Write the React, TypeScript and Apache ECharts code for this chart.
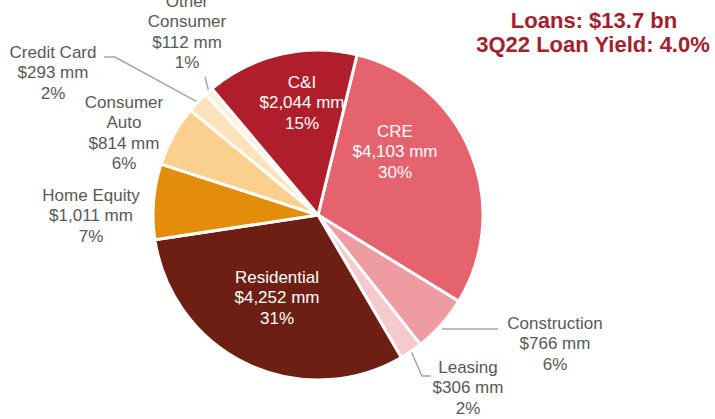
import React, { useEffect, useRef } from "react";
import * as echarts from "echarts";

// Data (clockwise from CRE)
const categories = [
  "CRE",
  "Construction",
  "Leasing",
  "Residential",
  "Home Equity",
  "Consumer Auto",
  "Credit Card",
  "Other Consumer",
  "C&I",
];
const labelNames = [
  "CRE",
  "Construction",
  "Leasing",
  "Residential",
  "Home Equity",
  "Consumer\nAuto",
  "Credit Card",
  "Other\nConsumer",
  "C&I",
];
const valuesMM = [4103, 766, 306, 4252, 1011, 814, 293, 112, 2044];
const titleLines = ["Loans: $13.7 bn", "3Q22 Loan Yield: 4.0%"];

const colors = [
  "#E4636E",
  "#EE9BA1",
  "#F5CACD",
  "#6E1F13",
  "#E38D0A",
  "#FBD08F",
  "#FCE3BC",
  "#FDF1DE",
  "#B11E2B",
];
const insideIdx = new Set([0, 3, 8]);
const noLineIdx = new Set([4, 5]);

type LabelPos = { x: number; y: number; line?: number[][]; fullLine?: boolean };
const labelPositions: LabelPos[] = [
  { x: 395, y: 121 },
  { x: 555, y: 313, line: [[442, 329], [498, 329]], fullLine: true },
  { x: 468, y: 357, line: [[422, 376], [431, 376]] },
  { x: 277, y: 267 },
  { x: 91, y: 185 },
  { x: 124, y: 92 },
  { x: 53, y: 42, line: [[115, 57], [104, 57]] },
  { x: 187, y: -9, line: [[205, 77]] },
  { x: 302, y: 72 },
];

const FONT = '"Liberation Sans", Arial, Helvetica, sans-serif';

export default function App() {
  const ref = useRef<HTMLDivElement>(null);
  useEffect(() => {
    if (!ref.current) return;
    const chart = echarts.init(ref.current, undefined, { renderer: "svg" });
    const data = categories.map((name, i) => ({
      name,
      value: valuesMM[i],
      itemStyle: { color: colors[i] },
      label: insideIdx.has(i)
        ? { position: "inside", color: "#ffffff" }
        : { position: "outside", color: "#595959" },
      labelLine: { show: !insideIdx.has(i) && !noLineIdx.has(i) },
    }));
    chart.setOption({
      animation: false,
      backgroundColor: "#ffffff",
      graphic: [
        {
          type: "text",
          x: 594,
          y: 20,
          style: {
            text: titleLines[0],
            fill: "#A3202D",
            font: `bold 22px ${FONT}`,
            align: "center",
            verticalAlign: "middle",
          },
        },
        {
          type: "text",
          x: 593,
          y: 44,
          style: {
            text: titleLines[1],
            fill: "#A3202D",
            font: `bold 22px ${FONT}`,
            align: "center",
            verticalAlign: "middle",
          },
        },
      ],
      series: [
        {
          type: "pie",
          center: [318, 215],
          radius: 165,
          startAngle: 76.3,
          clockwise: true,
          percentPrecision: 0,
          avoidLabelOverlap: false,
          itemStyle: { borderColor: "#ffffff", borderWidth: 3 },
          label: {
            show: true,
            fontFamily: FONT,
            fontSize: 17,
            lineHeight: 20.5,
            align: "center",
            formatter: (p: any) =>
              `${labelNames[p.dataIndex]}\n$${Number(p.value).toLocaleString("en-US")} mm\n${p.percent}%`,
          },
          labelLine: {
            show: true,
            length: 10,
            length2: 10,
            lineStyle: { color: "#A6A6A6", width: 1.5 },
          },
          labelLayout: (params: any) => {
            const pos = labelPositions[params.dataIndex];
            const res: any = {
              x: pos.x,
              y: pos.y,
              align: "center",
              verticalAlign: "top",
            };
            if (pos.line) {
              const p0 =
                params.labelLinePoints && params.labelLinePoints[0]
                  ? params.labelLinePoints[0]
                  : null;
              res.labelLinePoints =
                pos.fullLine || !p0 ? pos.line : [[p0[0], p0[1]], ...pos.line];
            }
            return res;
          },
          data,
        },
      ],
    });
    return () => chart.dispose();
  }, []);
  return (
    <div
      ref={ref}
      style={{ position: "fixed", left: 0, top: 0, width: 715, height: 419 }}
    />
  );
}
